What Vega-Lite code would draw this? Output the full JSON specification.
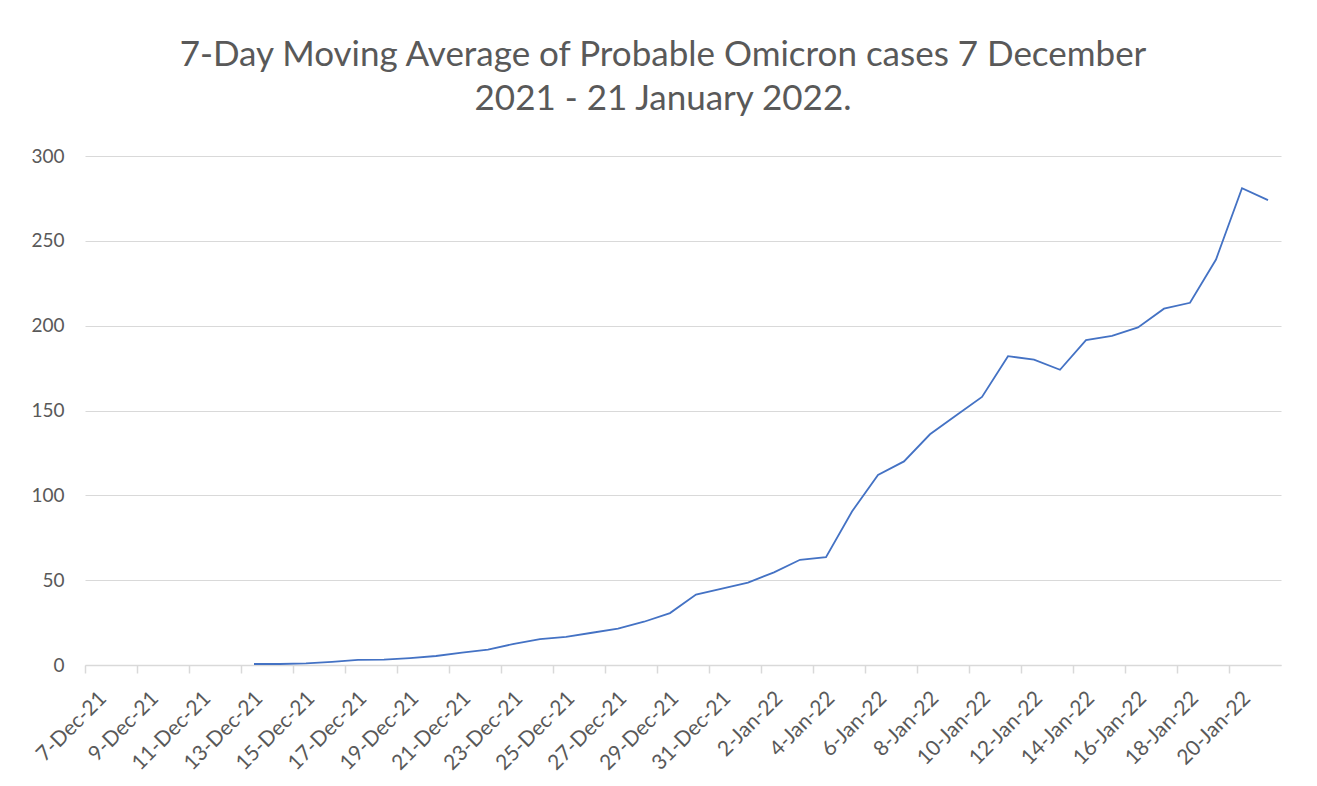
{
  "$schema": "https://vega.github.io/schema/vega-lite/v6.json",
  "width": 1196,
  "height": 509,
  "autosize": {"type": "none"},
  "padding": {"left": 85, "top": 156, "right": 36, "bottom": 121},
  "background": "white",
  "title": {
    "text": ["7-Day Moving Average of Probable Omicron cases 7 December", "2021 - 21 January 2022."],
    "font": "Lato",
    "fontSize": 35,
    "fontWeight": "normal",
    "color": "#595959",
    "anchor": "middle",
    "dx": -20,
    "baseline": "alphabetic",
    "lineHeight": 44,
    "offset": 2
  },
  "data": {
    "values": [
      {"date": "13-Dec-21", "cases": 0.6},
      {"date": "14-Dec-21", "cases": 0.6},
      {"date": "15-Dec-21", "cases": 0.9},
      {"date": "16-Dec-21", "cases": 1.8},
      {"date": "17-Dec-21", "cases": 3.0},
      {"date": "18-Dec-21", "cases": 3.2},
      {"date": "19-Dec-21", "cases": 4.1},
      {"date": "20-Dec-21", "cases": 5.3},
      {"date": "21-Dec-21", "cases": 7.3},
      {"date": "22-Dec-21", "cases": 9.0},
      {"date": "23-Dec-21", "cases": 12.5},
      {"date": "24-Dec-21", "cases": 15.2},
      {"date": "25-Dec-21", "cases": 16.6},
      {"date": "26-Dec-21", "cases": 19.0},
      {"date": "27-Dec-21", "cases": 21.5},
      {"date": "28-Dec-21", "cases": 25.5},
      {"date": "29-Dec-21", "cases": 30.6},
      {"date": "30-Dec-21", "cases": 41.5},
      {"date": "31-Dec-21", "cases": 45.0},
      {"date": "1-Jan-22", "cases": 48.6},
      {"date": "2-Jan-22", "cases": 54.6},
      {"date": "3-Jan-22", "cases": 62.0},
      {"date": "4-Jan-22", "cases": 63.6},
      {"date": "5-Jan-22", "cases": 90.5},
      {"date": "6-Jan-22", "cases": 112.0},
      {"date": "7-Jan-22", "cases": 120.0},
      {"date": "8-Jan-22", "cases": 136.0},
      {"date": "9-Jan-22", "cases": 147.0},
      {"date": "10-Jan-22", "cases": 158.0},
      {"date": "11-Jan-22", "cases": 182.0},
      {"date": "12-Jan-22", "cases": 180.0},
      {"date": "13-Jan-22", "cases": 174.0},
      {"date": "14-Jan-22", "cases": 191.5},
      {"date": "15-Jan-22", "cases": 194.0},
      {"date": "16-Jan-22", "cases": 199.0},
      {"date": "17-Jan-22", "cases": 210.0},
      {"date": "18-Jan-22", "cases": 213.5},
      {"date": "19-Jan-22", "cases": 239.0},
      {"date": "20-Jan-22", "cases": 281.0},
      {"date": "21-Jan-22", "cases": 274.0}
    ]
  },
  "mark": {"type": "line", "color": "#4472C4", "strokeWidth": 1.8},
  "encoding": {
    "x": {
      "field": "date",
      "type": "ordinal",
      "sort": null,
      "scale": {
        "type": "point",
        "padding": 0.5,
        "domain": ["7-Dec-21","8-Dec-21","9-Dec-21","10-Dec-21","11-Dec-21","12-Dec-21","13-Dec-21","14-Dec-21","15-Dec-21","16-Dec-21","17-Dec-21","18-Dec-21","19-Dec-21","20-Dec-21","21-Dec-21","22-Dec-21","23-Dec-21","24-Dec-21","25-Dec-21","26-Dec-21","27-Dec-21","28-Dec-21","29-Dec-21","30-Dec-21","31-Dec-21","1-Jan-22","2-Jan-22","3-Jan-22","4-Jan-22","5-Jan-22","6-Jan-22","7-Jan-22","8-Jan-22","9-Jan-22","10-Jan-22","11-Jan-22","12-Jan-22","13-Jan-22","14-Jan-22","15-Jan-22","16-Jan-22","17-Jan-22","18-Jan-22","19-Jan-22","20-Jan-22","21-Jan-22"]
      },
      "axis": {
        "title": null,
        "values": ["7-Dec-21","9-Dec-21","11-Dec-21","13-Dec-21","15-Dec-21","17-Dec-21","19-Dec-21","21-Dec-21","23-Dec-21","25-Dec-21","27-Dec-21","29-Dec-21","31-Dec-21","2-Jan-22","4-Jan-22","6-Jan-22","8-Jan-22","10-Jan-22","12-Jan-22","14-Jan-22","16-Jan-22","18-Jan-22","20-Jan-22"],
        "labelAngle": -45,
        "labelAlign": "right",
        "labelBaseline": "middle",
        "labelFont": "Lato",
        "labelFontSize": 21,
        "labelColor": "#595959",
        "labelPadding": 22,
        "tickOffset": -13,
        "labelOffset": 18,
        "tickColor": "#d9d9d9",
        "tickSize": 8,
        "tickWidth": 1.5,
        "domainColor": "#d9d9d9",
        "domainWidth": 1.5,
        "grid": false
      }
    },
    "y": {
      "field": "cases",
      "type": "quantitative",
      "scale": {"domain": [0, 300], "nice": false},
      "axis": {
        "title": null,
        "values": [0, 50, 100, 150, 200, 250, 300],
        "labelFont": "Lato",
        "labelFontSize": 19,
        "labelColor": "#595959",
        "labelPadding": 21,
        "ticks": false,
        "domain": false,
        "grid": true,
        "gridColor": "#d9d9d9",
        "gridWidth": 1.2
      }
    }
  },
  "config": {
    "view": {"stroke": null}
  }
}
